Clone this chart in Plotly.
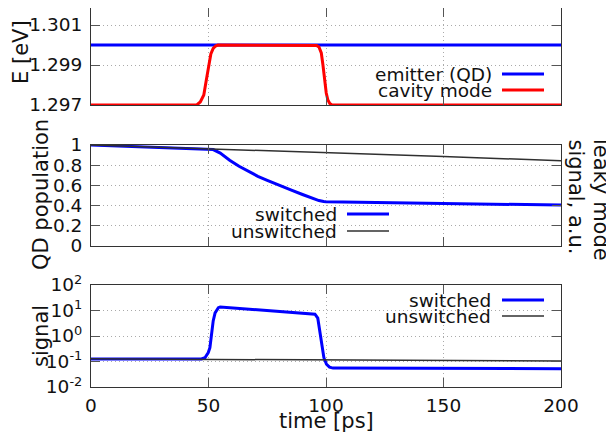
import plotly.graph_objects as go

# ---------------- data ----------------
t_emitter = [0, 200]
E_emitter = [1.300, 1.300]

t_cavity = [0, 45, 46.5, 48, 49, 50, 51, 52, 53, 54, 95, 96, 97, 98, 98.7, 99.4, 100.1, 100.8, 101.6, 102.5, 200]
E_cavity = [1.297, 1.297, 1.29715, 1.2975, 1.2982, 1.2990, 1.29955, 1.29983, 1.29995, 1.300, 1.300,
            1.29998, 1.2999, 1.2996, 1.2990, 1.2983, 1.2976, 1.29725, 1.29708, 1.297, 1.297]

t_pop_switched = [0, 50, 52, 55, 59, 63, 67, 71, 75, 80, 85, 90, 94, 97, 99, 100, 200]
pop_switched = [1.0, 0.962, 0.955, 0.92, 0.85, 0.79, 0.74, 0.69, 0.65, 0.60, 0.555, 0.51, 0.475, 0.45,
                0.44, 0.437, 0.405]

t_pop_unswitched = [0, 50, 100, 150, 200]
pop_unswitched = [1.0, 0.964, 0.925, 0.885, 0.845]

t_sig_switched = [0, 47, 48.5, 49.9, 50.6, 51.3, 52, 52.8, 54.2, 55, 95.3, 96.5, 97.4, 98.2, 99.1,
                  100.2, 101.5, 103, 200]
sig_switched = [0.126, 0.126, 0.141, 0.224, 0.347, 1.58, 3.9, 8.1, 12.9, 13.8, 7.2, 5.0, 1.58, 0.47,
                0.141, 0.078, 0.060, 0.055, 0.052]

t_sig_unswitched = [0, 200]
sig_unswitched = [0.127, 0.104]

x_ticks = [0, 50, 100, 150, 200]
x_tick_labels = ["0", "50", "100", "150", "200"]
E_ticks = [1.297, 1.299, 1.301]
E_tick_labels = ["1.297", "1.299", "1.301"]
pop_ticks = [0, 0.2, 0.4, 0.6, 0.8, 1]
pop_tick_labels = ["0", "0.2", "0.4", "0.6", "0.8", "1"]
sig_ticks = [0.01, 0.1, 1, 10, 100]
sig_tick_labels = ["10<sup>-2</sup>", "10<sup>-1</sup>", "10<sup>0</sup>", "10<sup>1</sup>", "10<sup>2</sup>"]

# ---------------- figure ----------------
# page is shown with an 8px body margin, so the figure is 8px smaller each way
OFF = 8
W, H = 614 - OFF, 441 - OFF
PLOT_L, PLOT_R, PLOT_T, PLOT_B = 91, 561, 8, 387   # page pixels
L, R, T, B = PLOT_L - OFF, W - (PLOT_R - OFF), PLOT_T - OFF, H - (PLOT_B - OFF)
PW, PH = PLOT_R - PLOT_L, PLOT_B - PLOT_T
FONT = "DejaVu Sans"
TICKFS = 18.5
TITLEFS = 21


def px(x):
    return (x - PLOT_L) / PW


def py(y):
    return (PLOT_B - y) / PH


BLUE = "#0000ff"
RED = "#ff0000"
BLACK = "#303030"

fig = go.Figure()
fig.add_trace(go.Scatter(x=t_emitter, y=E_emitter, mode="lines", line=dict(color=BLUE, width=3),
                         xaxis="x", yaxis="y", showlegend=False))
fig.add_trace(go.Scatter(x=t_cavity, y=E_cavity, mode="lines", line=dict(color=RED, width=3),
                         xaxis="x", yaxis="y", showlegend=False))
fig.add_trace(go.Scatter(x=t_pop_switched, y=pop_switched, mode="lines", line=dict(color=BLUE, width=3),
                         xaxis="x2", yaxis="y2", showlegend=False))
fig.add_trace(go.Scatter(x=t_pop_unswitched, y=pop_unswitched, mode="lines", line=dict(color=BLACK, width=1.5),
                         xaxis="x2", yaxis="y2", showlegend=False))
fig.add_trace(go.Scatter(x=t_sig_switched, y=sig_switched, mode="lines", line=dict(color=BLUE, width=3),
                         xaxis="x3", yaxis="y3", showlegend=False))
fig.add_trace(go.Scatter(x=t_sig_unswitched, y=sig_unswitched, mode="lines", line=dict(color=BLACK, width=1.5),
                         xaxis="x3", yaxis="y3", showlegend=False))

axis_common = dict(
    showline=True, linecolor="#333", linewidth=1, mirror="ticks",
    ticks="inside", ticklen=9, tickwidth=1, tickcolor="#555",
    showgrid=True, gridcolor="#aaaaaa", gridwidth=1, griddash="1px,3px",
    zeroline=False, automargin=False,
    tickfont=dict(family=FONT, size=TICKFS, color="#111"),
)

xcommon = dict(axis_common, range=[0, 200], tickmode="array", tickvals=x_ticks, ticktext=x_tick_labels)

d_top = [py(105), 1.0]
d_mid = [py(246), py(145)]
d_bot = [0.0, py(285)]
# 1.297 at page y 105, 20 px per 0.001 eV, panel top at page y 8
E_top = 1.297 + (105 - PLOT_T) / 20.0 * 0.001

fig.update_layout(
    width=W, height=H,
    margin=dict(l=L, r=R, t=T, b=B, autoexpand=False),
    paper_bgcolor="white", plot_bgcolor="white",
    font=dict(family=FONT, size=TICKFS, color="#111"),
    showlegend=False,
    xaxis=dict(xcommon, anchor="y", domain=[0, 1], showticklabels=False),
    xaxis2=dict(xcommon, anchor="y2", domain=[0, 1], showticklabels=False),
    xaxis3=dict(xcommon, anchor="y3", domain=[0, 1], ticklabelstandoff=2),
    yaxis=dict(axis_common, domain=d_top, range=[1.297, E_top], tickmode="array",
               tickvals=E_ticks, ticktext=E_tick_labels, anchor="x", ticklabelstandoff=4),
    yaxis2=dict(axis_common, domain=d_mid, range=[0, 1], tickmode="array",
                tickvals=pop_ticks, ticktext=pop_tick_labels, anchor="x2", ticklabelstandoff=4),
    yaxis3=dict(axis_common, domain=d_bot, type="log", range=[-2, 2], tickmode="array",
                tickvals=sig_ticks, ticktext=sig_tick_labels, anchor="x3", ticklabelstandoff=4),
)

ann = []


def text(x, y, s, size=TICKFS, angle=0, xanchor="center", yanchor="middle"):
    ann.append(dict(x=px(x), y=py(y), xref="paper", yref="paper", text=s, showarrow=False,
                    textangle=angle, xanchor=xanchor, yanchor=yanchor,
                    font=dict(family=FONT, size=size, color="#111")))


# axis titles (page pixel positions)
text(21, 52, "E [eV]", TITLEFS, -90)
text(41, 195, "QD population", TITLEFS, -90)
text(41, 336, "signal", TITLEFS, -90)
text(326, 421, "time [ps]", TITLEFS)
text(601, 137, "leaky mode", TITLEFS, 90, yanchor="top")
text(576, 137, "signal, a.u.", TITLEFS, 90, yanchor="top")

# legends
shapes = []


def key(x0, x1, y, color, width):
    shapes.append(dict(type="line", xref="paper", yref="paper", x0=px(x0), x1=px(x1), y0=py(y), y1=py(y),
                       line=dict(color=color, width=width)))


text(494, 74, "emitter (QD)", xanchor="right")
text(494, 90, "cavity mode", xanchor="right")
key(502, 544, 74, BLUE, 3)
key(502, 544, 90, RED, 3)

text(339, 214, "switched", xanchor="right")
text(339, 231, "unswitched", xanchor="right")
key(347, 389, 214, BLUE, 3)
key(347, 389, 231, BLACK, 1.5)

text(493, 300, "switched", xanchor="right")
text(493, 316, "unswitched", xanchor="right")
key(502, 544, 300, BLUE, 3)
key(502, 544, 316, BLACK, 1.5)

fig.update_layout(annotations=ann, shapes=shapes)

fig.write_html("out.html")
